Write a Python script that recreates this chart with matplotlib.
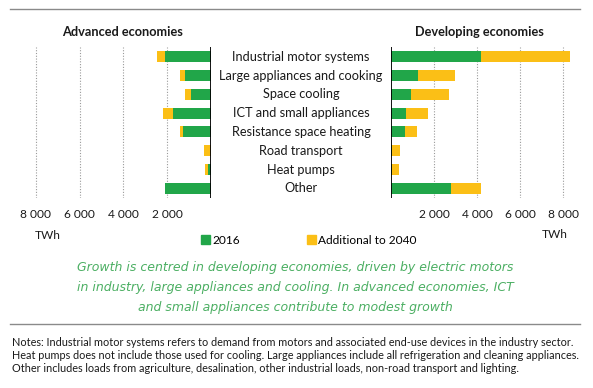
import matplotlib
matplotlib.use("Agg")
import matplotlib.pyplot as plt
from matplotlib.patches import Patch
from matplotlib.lines import Line2D

categories = ["Industrial motor systems", "Large appliances and cooking", "Space cooling",
              "ICT and small appliances", "Resistance space heating", "Road transport",
              "Heat pumps", "Other"]
adv_2016 = [2100, 1210, 920, 1740, 1260, 20, 150, 2120]
adv_add = [390, 200, 290, 440, 165, 290, 140, 0]
dev_2016 = [4200, 1245, 940, 690, 630, 50, 30, 2800]
dev_add = [4110, 1710, 1740, 1030, 555, 385, 340, 1370]
ticks = [2000, 4000, 6000, 8000]
tick_labels = ["2 000", "4 000", "6 000", "8 000"]

GREEN = "#21a649"
YELLOW = "#fbbf16"
CAP = "#4caf63"
FONT = "Lato"

W, H = 593, 388
fig = plt.figure(figsize=(W / 100, H / 100), dpi=100)

def fx(px):
    return px / W

def fy(py):
    return 1 - py / H

row_top, row_bot = 47.3, 197.7
# left panel: 0 at x=211, 8000 at x=36
lscale = (211 - 36) / 8000
lmax = 8200
axl = fig.add_axes([fx(211 - lmax * lscale), fy(row_bot), fx(lmax * lscale), (row_bot - row_top) / H])
# right panel: 0 at x=391, 8000 at x=563.3
rscale = (563.3 - 391) / 8000
rmax = 8500
axr = fig.add_axes([fx(391), fy(row_bot), fx(rmax * rscale), (row_bot - row_top) / H])

y = list(range(len(categories)))
for ax, g, a, xmax in [(axl, adv_2016, adv_add, lmax), (axr, dev_2016, dev_add, rmax)]:
    ax.barh(y, g, height=0.58, color=GREEN, zorder=3)
    ax.barh(y, a, left=g, height=0.58, color=YELLOW, zorder=3)
    ax.set_ylim(len(categories) - 0.5, -0.5)
    ax.set_xlim(0, xmax)
    for t in ticks:
        ax.axvline(t, color="#9a9a9a", lw=0.8, ls=(0, (1, 1.5)), zorder=1)
    ax.axvline(0, color="black", lw=1.3, zorder=4)
    for s in ax.spines.values():
        s.set_visible(False)
    ax.set_xticks([])
    ax.set_yticks([])
axl.invert_xaxis()

# category labels
for i, c in enumerate(categories):
    yy = row_top + (i + 0.5) * (row_bot - row_top) / len(categories)
    fig.text(fx(301), fy(yy), c, ha="center", va="center", fontsize=9.2,
             family=FONT, color="#1a1a1a")

# panel titles
fig.text(fx(123), fy(32), "Advanced economies", ha="center", va="center",
         fontsize=9.2, fontweight="bold", family=FONT, color="#1a1a1a")
fig.text(fx(479), fy(32), "Developing economies", ha="center", va="center",
         fontsize=9.2, fontweight="bold", family=FONT, color="#1a1a1a")

# tick labels
for t, lab in zip(ticks, tick_labels):
    fig.text(fx(211 - t * lscale), fy(215), lab, ha="center", va="center",
             fontsize=8.6, family=FONT, color="#1a1a1a")
    fig.text(fx(391 + t * rscale), fy(215), lab, ha="center", va="center",
             fontsize=8.6, family=FONT, color="#1a1a1a")
fig.text(fx(48), fy(236), "TWh", ha="center", va="center", fontsize=8.6,
         family=FONT, color="#1a1a1a")
fig.text(fx(555), fy(234), "TWh", ha="center", va="center", fontsize=8.6,
         family=FONT, color="#1a1a1a")

# legend
handles = [Patch(color=GREEN, label="2016"), Patch(color=YELLOW, label="Additional to 2040")]
fig.legend(handles=handles, loc="center", bbox_to_anchor=(fx(309), fy(240)), ncol=2,
           frameon=False, handlelength=0.75, handleheight=0.75, handletextpad=0.2,
           columnspacing=5.6, prop={"family": FONT, "size": 8.6}, borderaxespad=0)

# separators
fig.add_artist(Line2D([fx(10), fx(580)], [fy(9), fy(9)], color="#8a8a8a", lw=1.0))
fig.add_artist(Line2D([fx(10), fx(580)], [fy(324), fy(324)], color="#8a8a8a", lw=1.0))

# caption
caption = ["Growth is centred in developing economies, driven by electric motors",
           "in industry, large appliances and cooling. In advanced economies, ICT",
           "and small appliances contribute to modest growth"]
for i, line in enumerate(caption):
    fig.text(fx(295), fy(267 + i * 20), line, ha="center", va="center", fontsize=9.0,
             style="italic", family="DejaVu Sans", color=CAP)

notes = ["Notes: Industrial motor systems refers to demand from motors and associated end-use devices in the industry sector.",
         "Heat pumps does not include those used for cooling. Large appliances include all refrigeration and cleaning appliances.",
         "Other includes loads from agriculture, desalination, other industrial loads, non-road transport and lighting."]
for i, line in enumerate(notes):
    fig.text(fx(12), fy(343 + i * 12.7), line, ha="left", va="center", fontsize=7.85,
             family=FONT, color="#1a1a1a")

fig.savefig("out.png", dpi=100)
